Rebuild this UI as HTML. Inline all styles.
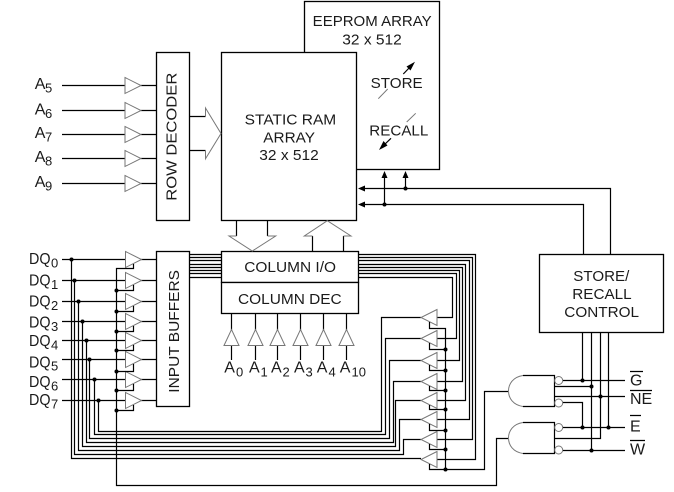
<!DOCTYPE html>
<html>
<head>
<meta charset="utf-8">
<style>
html,body{margin:0;padding:0;background:#fff;width:674px;height:492px;overflow:hidden}
svg{display:block}
text{font-family:"Liberation Sans",sans-serif;fill:#1a1a1a}
.l{font-size:15px}
.s{font-size:16px}
.b{font-size:13px}
.w{fill:none;stroke:#000;stroke-width:1.2}
.g{fill:none;stroke:#777;stroke-width:1}
.bx{fill:#fff;stroke:#000;stroke-width:1.3}
</style>
</head>
<body>
<svg width="674" height="492" viewBox="0 0 674 492" xmlns="http://www.w3.org/2000/svg">
<!-- blocks -->
<rect class="bx" x="304.5" y="1.5" width="135" height="168"/>
<rect class="bx" x="221.5" y="52.5" width="135" height="168"/>
<rect class="bx" x="156.5" y="52.5" width="33" height="168"/>
<rect class="bx" x="156.5" y="251.5" width="33" height="155"/>
<rect class="bx" x="221.5" y="251.5" width="137" height="31"/>
<rect class="bx" x="221.5" y="282.5" width="137" height="31"/>
<rect class="bx" x="539.5" y="254.5" width="124" height="78"/>

<!-- address wires -->
<path class="w" d="M62 85.5H125M141 85.5H156M62 110.5H125M141 110.5H156M62 134.5H125M141 134.5H156M62 158.5H125M141 158.5H156M62 183.5H125M141 183.5H156"/>
<path class="g" d="M125 77.5L141 85.5L125 93.5ZM125 102.5L141 110.5L125 118.5ZM125 126.5L141 134.5L125 142.5ZM125 150.5L141 158.5L125 166.5ZM125 175.5L141 183.5L125 191.5Z"/>

<!-- row decoder arrow -->
<path class="w" d="M189 116.5H205.5M189 150.5H205.5"/>
<path class="g" d="M205.5 116.5V108L221 133.5L205.5 158.7V150.5"/>

<!-- column arrows -->
<path class="w" d="M236.5 220V236M267.5 220V236M312.5 236V251M343.5 236V251"/>
<path class="g" d="M236.5 236H229L252.3 251L275.7 236H267.5M312.5 236H304.3L327.3 220.7L351 236H343.5"/>

<!-- store recall arrows -->
<path class="g" d="M378.3 98.7L387.7 89M415.7 113.3L406.7 122"/>
<path class="w" d="M403.3 74L411 66M391 138.3L383 146"/>
<path d="M415 61.7L406.5 66.5L410.5 70.5ZM379 150L387.5 145.5L383.5 141Z" fill="#000"/>

<!-- store recall wires -->
<path class="w" d="M362 188.5H610.5V254M362 204.5H583.5V254M384.5 204.5V176M405.5 188.5V176"/>
<path d="M384.5 171L381.5 178H387.5ZM405.5 171L402.5 178H408.5ZM358 188.5L365 185.5V191.5ZM358 204.5L365 201.5V207.5Z" fill="#000"/>
<circle cx="384.5" cy="204.5" r="2"/><circle cx="405.5" cy="188.5" r="2"/>

<!-- column address inputs -->
<path class="w" d="M231.5 313V330M255.5 313V330M277.5 313V330M300.5 313V330M323.5 313V330M346.5 313V330M231.5 345V360M255.5 345V360M277.5 345V360M300.5 345V360M323.5 345V360M346.5 345V360"/>
<path class="g" d="M224 345.5L231.5 329.5L239 345.5ZM248 345.5L255.5 329.5L263 345.5ZM270 345.5L277.5 329.5L285 345.5ZM293 345.5L300.5 329.5L308 345.5ZM316 345.5L323.5 329.5L331 345.5ZM339 345.5L346.5 329.5L354 345.5Z"/>

<!-- DQ input wires -->
<path class="w" d="M62 259.5H125M141 259.5H156M62 280.5H125M141 280.5H156M62 301.5H125M141 301.5H156M62 321.5H125M141 321.5H156M62 340.5H125M141 340.5H156M62 359.5H125M141 359.5H156M62 379.5H125M141 379.5H156M62 400.5H125M141 400.5H156"/>
<path class="g" d="M125.5 251.5L141.5 259.5L125.5 267.5ZM125.5 272.5L141.5 280.5L125.5 288.5ZM125.5 293.5L141.5 301.5L125.5 309.5ZM125.5 313.5L141.5 321.5L125.5 329.5ZM125.5 332.5L141.5 340.5L125.5 348.5ZM125.5 351.5L141.5 359.5L125.5 367.5ZM125.5 371.5L141.5 379.5L125.5 387.5ZM125.5 392.5L141.5 400.5L125.5 408.5Z"/>
<!-- enable stubs left -->
<path class="w" d="M133.5 264V268.5H116.5V485.5H496.5V438.5H508M133.5 285V290.5H116.5M133.5 306V311.5H116.5M133.5 326V331.5H116.5M133.5 345V350.5H116.5M133.5 364V371.5H116.5M133.5 384V390.5H116.5M133.5 405V410.5H116.5"/>

<!-- bus left -->
<path class="w" d="M189 254.5H221M189 257.5H221M189 260.5H221M189 264.5H221M189 267.5H221M189 270.5H221M189 273.5H221M189 277.5H221"/>

<!-- bus right, nested -->
<path class="w" d="M358 254.5H475.5V459.5H437M358 257.5H472.5V439.5H437M358 260.5H469.5V419.5H437M358 264.5H465.5V400.5H437M358 267.5H462.5V381.5H437M358 270.5H459.5V360.5H437M358 273.5H456.5V338.5H437M358 277.5H452.5V317.5H437"/>

<!-- DQ return bus -->
<path class="w" d="M98.5 400.5V431.5H381.5V317.5H421M94.5 379.5V434.5H385.5V338.5H421M89.5 359.5V438.5H389.5V360.5H421M86.5 340.5V442.5H393.5V381.5H421M82.5 321.5V446.5H395.5V400.5H421M78.5 301.5V450.5H399.5V419.5H421M74.5 280.5V454.5H403.5V439.5H421M71.5 259.5V458.5H421"/>

<!-- output triangles -->
<path class="g" d="M437 309.5L421 317.5L437 325.5ZM437 330.5L421 338.5L437 346.5ZM437 352.5L421 360.5L437 368.5ZM437 373.5L421 381.5L437 389.5ZM437 392.5L421 400.5L437 408.5ZM437 411.5L421 419.5L437 427.5ZM437 431.5L421 439.5L437 447.5ZM437 451.5L421 459.5L437 467.5Z"/>
<path class="w" d="M429.5 322V328.5H445.5V469.5M429.5 343V349.5H445.5M429.5 365V370.5H445.5M429.5 386V390.5H445.5M429.5 405V409.5H445.5M429.5 424V430.5H445.5M429.5 444V449.5H445.5M429.5 464V469.5H484.5V391.5H508"/>

<!-- dots -->
<g fill="#000">
<circle cx="71.5" cy="259.5" r="2"/><circle cx="74.5" cy="280.5" r="2"/><circle cx="78.5" cy="301.5" r="2"/><circle cx="82.5" cy="321.5" r="2"/><circle cx="86.5" cy="340.5" r="2"/><circle cx="89.5" cy="359.5" r="2"/><circle cx="94.5" cy="379.5" r="2"/><circle cx="98.5" cy="400.5" r="2"/>
<circle cx="116.5" cy="290.5" r="2"/><circle cx="116.5" cy="311.5" r="2"/><circle cx="116.5" cy="331.5" r="2"/><circle cx="116.5" cy="350.5" r="2"/><circle cx="116.5" cy="371.5" r="2"/><circle cx="116.5" cy="390.5" r="2"/><circle cx="116.5" cy="410.5" r="2"/>
<circle cx="445.5" cy="349.5" r="2"/><circle cx="445.5" cy="370.5" r="2"/><circle cx="445.5" cy="390.5" r="2"/><circle cx="445.5" cy="409.5" r="2"/><circle cx="445.5" cy="430.5" r="2"/><circle cx="445.5" cy="449.5" r="2"/><circle cx="445.5" cy="469.5" r="2"/>
<circle cx="582.5" cy="380.5" r="2"/><circle cx="591.5" cy="386.5" r="2"/><circle cx="600.5" cy="396.5" r="2"/><circle cx="582.5" cy="427.5" r="2"/><circle cx="608.5" cy="427.5" r="2"/><circle cx="591.5" cy="450.5" r="2"/>
</g>

<!-- gates -->
<path class="g" d="M523 375.5C513 377 508.5 384 508.5 391C508.5 398 513 405 523 406.5M523 422.5C513 424 508.5 431 508.5 438C508.5 445 513 452 523 453.5"/>
<path class="w" d="M523 375.5H554.5V406.5H523M523 422.5H554.5V453.5H523"/>
<g fill="#fff" stroke="#777" stroke-width="1"><circle cx="558.7" cy="380.5" r="4"/><circle cx="558.7" cy="403" r="4"/><circle cx="558.7" cy="427.5" r="4"/><circle cx="558.7" cy="450" r="4"/></g>
<path class="w" d="M563 380.5H625M554.5 386.5H591.5M554.5 396.5H625M563 402.5H582.5V427.5M563 427.5H625M554.5 438.5H600.5V332M563 450.5H625M582.5 332V380.5M591.5 332V450.5M608.5 332V427.5"/>
<path class="w" d="M630 371.5H643M630 390.5H652M630 415.5H641M630 440.5H645"/>

<!-- labels -->
<text class="l" x="312.7" y="26" textLength="119" lengthAdjust="spacingAndGlyphs">EEPROM ARRAY</text>
<text class="l" x="342.3" y="44.3" textLength="59.5" lengthAdjust="spacingAndGlyphs">32 x 512</text>
<text class="l" x="370.7" y="88" textLength="52" lengthAdjust="spacingAndGlyphs">STORE</text>
<text class="l" x="369.3" y="135.7" textLength="59" lengthAdjust="spacingAndGlyphs">RECALL</text>
<text class="l" x="244.7" y="124.3" textLength="91.5" lengthAdjust="spacingAndGlyphs">STATIC RAM</text>
<text class="l" x="263.3" y="142.3" textLength="51.7" lengthAdjust="spacingAndGlyphs">ARRAY</text>
<text class="l" x="259.3" y="160" textLength="59.4" lengthAdjust="spacingAndGlyphs">32 x 512</text>
<text class="l" x="244.3" y="272" textLength="91.7" lengthAdjust="spacingAndGlyphs">COLUMN I/O</text>
<text class="l" x="238" y="304" textLength="103.7" lengthAdjust="spacingAndGlyphs">COLUMN DEC</text>
<text class="l" x="573.3" y="281" textLength="56" lengthAdjust="spacingAndGlyphs">STORE/</text>
<text class="l" x="572.3" y="299" textLength="59.3" lengthAdjust="spacingAndGlyphs">RECALL</text>
<text class="l" x="564.3" y="317" textLength="74.7" lengthAdjust="spacingAndGlyphs">CONTROL</text>
<text class="l" transform="translate(176.7 200.7) rotate(-90)" textLength="128" lengthAdjust="spacingAndGlyphs">ROW DECODER</text>
<text class="l" transform="translate(179 392.7) rotate(-90)" textLength="122.7" lengthAdjust="spacingAndGlyphs">INPUT BUFFERS</text>

<text class="s" x="34.7" y="89">A</text><text class="b" x="45" y="92.7">5</text>
<text class="s" x="34.7" y="114.3">A</text><text class="b" x="45" y="118">6</text>
<text class="s" x="34.7" y="138">A</text><text class="b" x="45" y="141.7">7</text>
<text class="s" x="34.7" y="162">A</text><text class="b" x="45" y="165.7">8</text>
<text class="s" x="34.7" y="187">A</text><text class="b" x="45" y="190.7">9</text>

<text class="s" x="29" y="264" textLength="21.5" lengthAdjust="spacingAndGlyphs">DQ</text><text class="b" x="51" y="267.5">0</text>
<text class="s" x="29" y="285.7" textLength="21.5" lengthAdjust="spacingAndGlyphs">DQ</text><text class="b" x="51" y="289">1</text>
<text class="s" x="29" y="306.7" textLength="21.5" lengthAdjust="spacingAndGlyphs">DQ</text><text class="b" x="51" y="310">2</text>
<text class="s" x="29" y="327.7" textLength="21.5" lengthAdjust="spacingAndGlyphs">DQ</text><text class="b" x="51" y="331">3</text>
<text class="s" x="29" y="346" textLength="21.5" lengthAdjust="spacingAndGlyphs">DQ</text><text class="b" x="51" y="349.5">4</text>
<text class="s" x="29" y="367.3" textLength="21.5" lengthAdjust="spacingAndGlyphs">DQ</text><text class="b" x="51" y="370.7">5</text>
<text class="s" x="29" y="387" textLength="21.5" lengthAdjust="spacingAndGlyphs">DQ</text><text class="b" x="51" y="390.5">6</text>
<text class="s" x="29" y="405" textLength="21.5" lengthAdjust="spacingAndGlyphs">DQ</text><text class="b" x="51" y="408.5">7</text>

<text class="s" x="224.3" y="372.7">A</text><text class="b" x="236" y="376.3">0</text>
<text class="s" x="249" y="372.7">A</text><text class="b" x="260.5" y="376.3">1</text>
<text class="s" x="271" y="372.7">A</text><text class="b" x="282.5" y="376.3">2</text>
<text class="s" x="294" y="372.7">A</text><text class="b" x="305.5" y="376.3">3</text>
<text class="s" x="316.7" y="372.7">A</text><text class="b" x="328.5" y="376.3">4</text>
<text class="s" x="339.7" y="372.7">A</text><text class="b" x="351.5" y="376.3">10</text>

<text class="s" x="630" y="385.7">G</text>
<text class="s" x="630" y="404">NE</text>
<text class="s" x="630" y="431.7">E</text>
<text class="s" x="630" y="454.3">W</text>
</svg>
</body>
</html>
